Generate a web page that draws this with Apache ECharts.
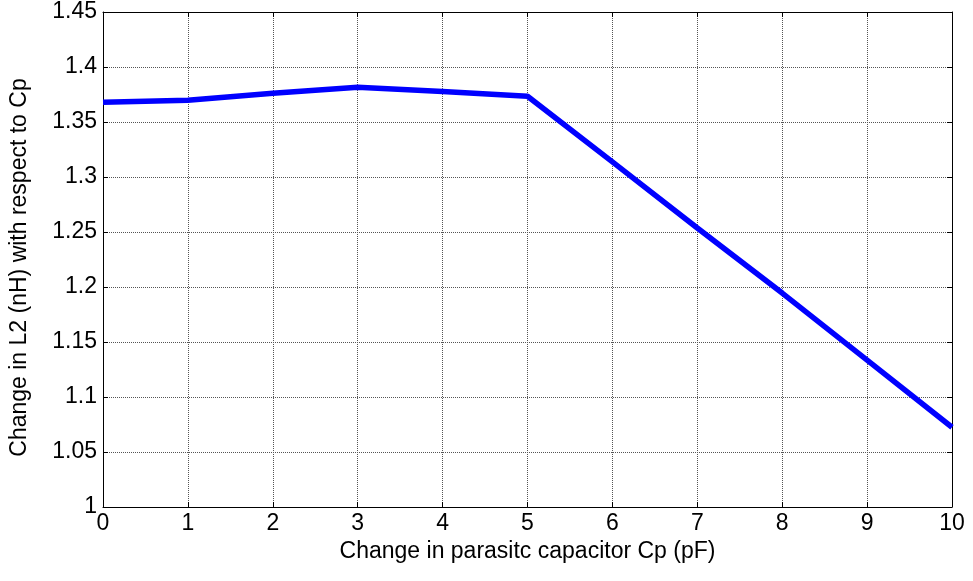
<!DOCTYPE html>
<html><head><meta charset="utf-8">
<script src="https://cdn.jsdelivr.net/npm/echarts@6/dist/echarts.min.js"></script>
<style>html,body{margin:0;padding:0;background:#fff}#c{width:973px;height:581px}</style>
</head><body><div id="c"></div>
<script>
const xValues = [0, 1, 2, 3, 4, 5, 6, 7, 8, 9, 10];
const yValues = [1.368, 1.3697, 1.3762, 1.3815, 1.3778, 1.3734, 1.3138, 1.2536, 1.1945, 1.1335, 1.0725];
const xLabel = 'Change in parasitc capacitor Cp (pF)';
const yLabel = 'Change in L2 (nH) with respect to Cp';

const font = 'Liberation Sans, Arial, sans-serif';
const fs = 23;
const chart = echarts.init(document.getElementById('c'), null, {renderer: 'canvas'});
const axisLine = {show: true, onZero: false, lineStyle: {color: '#000', width: 1}};
const grid = {show: true, lineStyle: {color: '#555', type: [1, 1], width: 1}};
const tick = {show: true, inside: true, length: 5, lineStyle: {color: '#000'}};
chart.setOption({
  animation: false,
  grid: {left: 103, right: 21, top: 12, bottom: 74, containLabel: false},
  xAxis: [{
    type: 'value', min: 0, max: 10, interval: 1,
    axisLine, axisTick: tick,
    axisLabel: {color: '#000', fontSize: fs, fontFamily: font, margin: 5},
    splitLine: grid,
    name: xLabel, nameLocation: 'middle', nameGap: 33,
    nameTextStyle: {color: '#000', fontSize: fs, fontFamily: font}
  }, {
    type: 'value', min: 0, max: 10, interval: 1, position: 'top',
    axisLine, axisTick: tick,
    axisLabel: {show: false}, splitLine: {show: false}
  }],
  yAxis: [{
    type: 'value', min: 1, max: 1.45, interval: 0.05,
    axisLine, axisTick: tick,
    axisLabel: {color: '#000', fontSize: fs, fontFamily: font, margin: 6,
      formatter: v => String(parseFloat(v.toFixed(2)))},
    splitLine: grid,
    name: yLabel, nameLocation: 'middle', nameGap: 72, nameRotate: 90,
    nameTextStyle: {color: '#000', fontSize: fs, fontFamily: font, padding: [0, 16, 0, 0]}
  }, {
    type: 'value', min: 1, max: 1.45, interval: 0.05, position: 'right',
    axisLine, axisTick: tick,
    axisLabel: {show: false}, splitLine: {show: false}
  }],
  series: [{
    type: 'line', xAxisIndex: 0, yAxisIndex: 0,
    data: xValues.map((x, i) => [x, yValues[i]]),
    showSymbol: false, symbol: 'none',
    lineStyle: {color: '#0000ff', width: 5.5},
    clip: false
  }]
});
</script></body></html>
